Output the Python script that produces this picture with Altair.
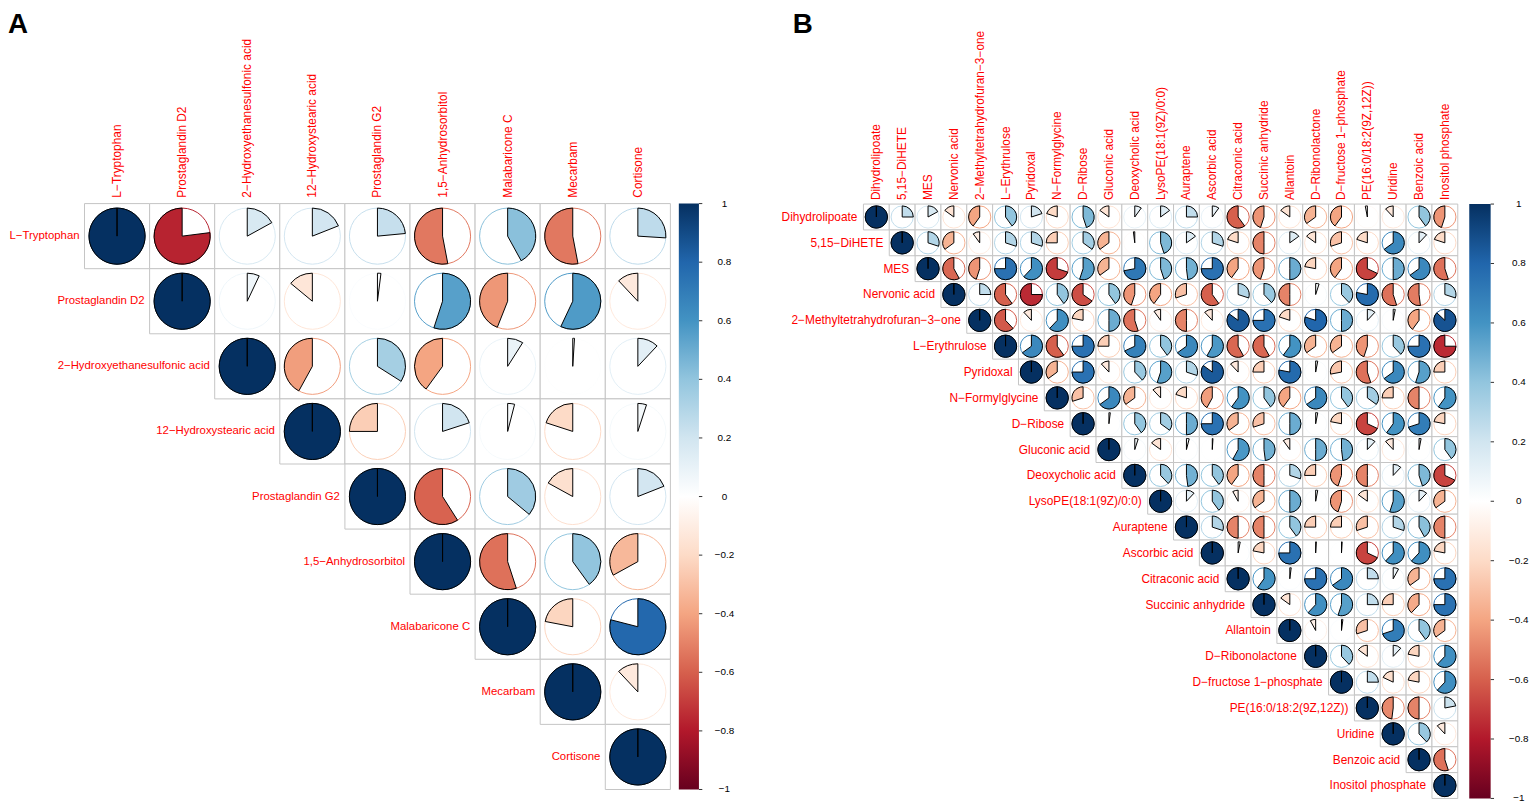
import math
import pandas as pd
import altair as alt

# ---------------- data ----------------
A_NAMES = ["L−Tryptophan", "Prostaglandin D2", "2−Hydroxyethanesulfonic acid",
           "12−Hydroxystearic acid", "Prostaglandin G2", "1,5−Anhydrosorbitol",
           "Malabaricone C", "Mecarbam", "Cortisone"]
# upper triangle, row i holds correlations with columns i+1 .. n
A_UPPER = [
    [-0.77, 0.17, 0.19, 0.235, -0.53, 0.42, -0.53, 0.26],
    [0.07, -0.14, 0.02, 0.55, -0.44, 0.57, -0.12],
    [-0.42, 0.34, -0.40, 0.09, 0.01, 0.12],
    [-0.25, 0.20, 0.04, -0.20, 0.05],
    [-0.59, 0.36, -0.17, 0.19],
    [-0.55, 0.40, -0.33],
    [-0.22, 0.79],
    [-0.12],
]

B_NAMES = ["Dihydrolipoate", "5,15−DiHETE", "MES", "Nervonic acid",
           "2−Methyltetrahydrofuran−3−one", "L−Erythrulose", "Pyridoxal",
           "N−Formylglycine", "D−Ribose", "Gluconic acid", "Deoxycholic acid",
           "LysoPE(18:1(9Z)/0:0)", "Auraptene", "Ascorbic acid", "Citraconic acid",
           "Succinic anhydride", "Allantoin", "D−Ribonolactone",
           "D−fructose 1−phosphate", "PE(16:0/18:2(9Z,12Z))", "Uridine",
           "Benzoic acid", "Inositol phosphate"]
B_UPPER = [
    [0.25, 0.17, -0.15, -0.40, 0.40, 0.20, -0.20, 0.45, -0.15, 0.10, 0.15, 0.25, 0.10, -0.60, -0.45, -0.15, -0.35, -0.40, -0.03, -0.12, 0.40, -0.45],
    [0.30, -0.35, -0.10, 0.30, 0.30, -0.25, 0.35, -0.35, -0.02, 0.45, 0.15, 0.30, -0.20, -0.50, 0.15, -0.15, -0.30, -0.20, 0.65, 0.12, -0.20],
    [-0.58, -0.45, 0.75, 0.62, -0.70, 0.55, -0.35, 0.72, 0.45, 0.48, 0.75, -0.40, -0.45, 0.50, -0.22, -0.40, -0.68, 0.50, 0.65, -0.55],
    [0.25, -0.60, -0.75, 0.40, -0.65, 0.40, -0.45, -0.40, -0.30, -0.60, 0.30, 0.38, -0.50, 0.05, 0.38, 0.78, -0.55, -0.52, 0.30],
    [-0.62, -0.12, 0.62, -0.22, 0.50, -0.55, -0.10, -0.50, -0.12, 0.85, 0.75, -0.20, 0.80, 0.50, 0.12, 0.03, -0.40, 0.87],
    [0.65, -0.60, 0.75, -0.25, 0.68, 0.40, 0.65, 0.58, -0.58, -0.58, 0.60, -0.35, -0.35, -0.45, 0.38, 0.75, -0.75],
    [-0.35, 0.75, -0.12, 0.38, 0.55, 0.30, 0.85, -0.12, -0.25, 0.78, 0.03, -0.28, -0.55, 0.65, 0.55, -0.25],
    [-0.30, 0.65, -0.35, -0.12, -0.20, -0.42, 0.60, 0.40, -0.40, 0.65, 0.40, 0.35, -0.25, -0.50, 0.60],
    [0.02, 0.40, 0.35, 0.50, 0.75, -0.35, -0.30, 0.50, 0.03, -0.22, -0.68, 0.60, 0.70, -0.22],
    [0.05, -0.15, 0.04, 0.01, 0.58, 0.48, -0.10, 0.50, 0.48, 0.12, -0.12, 0.03, 0.40],
    [0.38, 0.48, 0.40, -0.40, -0.50, 0.30, -0.25, -0.45, -0.50, 0.12, 0.45, -0.68],
    [0.12, 0.40, -0.08, -0.35, 0.50, 0.03, -0.45, -0.15, 0.55, 0.12, -0.35],
    [0.30, -0.50, -0.50, 0.40, -0.25, -0.25, -0.30, 0.30, 0.42, -0.50],
    [0.03, -0.22, 0.75, 0.01, 0.01, -0.68, 0.62, 0.62, -0.22],
    [0.60, 0.02, 0.75, 0.65, 0.25, 0.08, -0.35, 0.75],
    [-0.15, 0.62, 0.55, 0.25, -0.25, -0.38, 0.75],
    [-0.08, 0.02, -0.30, 0.70, 0.40, -0.35],
    [0.38, -0.15, 0.12, -0.22, 0.62],
    [0.25, -0.18, -0.22, 0.62],
    [-0.48, -0.50, 0.22],
    [0.38, -0.12],
    [-0.55],
]

CBAR_TICKS = [1.0, 0.8, 0.6, 0.4, 0.2, 0.0, -0.2, -0.4, -0.6, -0.8, -1.0]
CBAR_LABELS = ["1", "0.8", "0.6", "0.4", "0.2", "0", "−0.2", "−0.4", "−0.6", "−0.8", "−1"]

PAL_DOMAIN = [-1, -0.8, -0.6, -0.4, -0.2, 0, 0.2, 0.4, 0.6, 0.8, 1]
PALETTE = ["#67001F", "#B2182B", "#D6604D", "#F4A582", "#FDDBC7", "#FFFFFF",
           "#D1E5F0", "#92C5DE", "#4393C3", "#2166AC", "#053061"]

# ---------------- style / layout ----------------
FONT = "Liberation Sans"
RED = "#FF0000"
GRID_COL = "#C4C4C4"
PAGE_H = 799          # plot height of both panels (page y 8 .. 807)

LAYOUT_A = dict(left=8, width=780, grid_left=85.2, grid_top=201.7, cell=65.7,
                radius=28.3, cbar_left=685.0, cbar_right=705.3, cbar_label=731.0,
                col_gap=6.0, row_gap=5, row_font=11.5, letter="A", letter_left=8)
LAYOUT_B = dict(left=788, width=749, grid_left=865.3, grid_top=202.2, cell=26.08,
                radius=11.2, cbar_left=1476.7, cbar_right=1498.3, cbar_label=1526.7,
                col_gap=4.0, row_gap=6, row_font=12, letter="B", letter_left=794)


def cells_frame(names, upper):
    rows = []
    n = len(names)
    for i in range(n):
        for j in range(i, n):
            r = 1.0 if i == j else upper[i][j - i - 1]
            rows.append({"i": i, "j": j, "r": r})
    return pd.DataFrame(rows)


def panel(names, upper, L):
    n = len(names)
    c = L["cell"]
    to_u = lambda px: (px - L["grid_left"]) / c
    to_v = lambda py: (py - L["grid_top"]) / c
    xdom = [to_u(L["left"]), to_u(L["left"] + L["width"])]
    ydom = [to_v(8), to_v(8 + PAGE_H)]
    xs = alt.Scale(domain=xdom, nice=False, zero=False)
    ys = alt.Scale(domain=ydom, nice=False, zero=False, reverse=True)
    cscale = alt.Scale(domain=PAL_DOMAIN, range=PALETTE, interpolate="rgb")

    cells = cells_frame(names, upper)
    base = alt.Chart(cells).transform_calculate(
        x0="datum.j", x1="datum.j + 1", y0="datum.i", y1="datum.i + 1",
        xc="datum.j + 0.5", yc="datum.i + 0.5",
        c0="0", c1="2 * PI",
        t0="datum.r < 0 ? 2 * PI * (1 + datum.r) : 0",
        t1="datum.r < 0 ? 2 * PI : 2 * PI * min(datum.r, 0.99999)",
    )
    X = lambda f: alt.X(f, scale=xs, axis=None)
    Y = lambda f: alt.Y(f, scale=ys, axis=None)

    grid = base.mark_rect(fill="white", stroke=GRID_COL, strokeWidth=1).encode(
        x=X("x0:Q"), x2="x1:Q", y=Y("y0:Q"), y2="y1:Q")
    ring = base.mark_arc(filled=False, strokeWidth=1).encode(
        x=X("xc:Q"), y=Y("yc:Q"),
        theta=alt.Theta("c0:Q", scale=None), theta2="c1:Q",
        radius=alt.value(L["radius"]),
        stroke=alt.Stroke("r:Q", scale=cscale, legend=None))
    pie = base.mark_arc(stroke="black", strokeWidth=1).encode(
        x=X("xc:Q"), y=Y("yc:Q"),
        theta=alt.Theta("t0:Q", scale=None), theta2="t1:Q",
        radius=alt.value(L["radius"]),
        fill=alt.Fill("r:Q", scale=cscale, legend=None))

    lab = pd.DataFrame({"name": names, "k": list(range(n))})
    gap = L["col_gap"] / c
    row_lab = alt.Chart(lab).transform_calculate(
        lx="datum.k", ly="datum.k + 0.5").mark_text(
        align="right", baseline="middle", dx=-L["row_gap"], font=FONT,
        fontSize=L["row_font"], color=RED).encode(
        x=X("lx:Q"), y=Y("ly:Q"), text="name:N")
    col_lab = alt.Chart(lab).transform_calculate(
        lx="datum.k + 0.5", ly=str(-gap)).mark_text(
        align="left", baseline="middle", angle=270, font=FONT, fontSize=12,
        color=RED).encode(x=X("lx:Q"), y=Y("ly:Q"), text="name:N")

    # colour bar
    stops = [alt.GradientStop(color=col, offset=k / (len(PALETTE) - 1))
             for k, col in enumerate(PALETTE)]
    cb = pd.DataFrame({"x0": [to_u(L["cbar_left"])], "x1": [to_u(L["cbar_right"])],
                       "y0": [0], "y1": [n]})
    cbar = alt.Chart(cb).mark_rect(
        fill=alt.LinearGradient(gradient="linear", stops=stops, x1=0, x2=0, y1=1, y2=0)
    ).encode(x=X("x0:Q"), x2="x1:Q", y=Y("y0:Q"), y2="y1:Q")
    tk = pd.DataFrame({"t": CBAR_TICKS, "label": CBAR_LABELS})
    tk_base = alt.Chart(tk).transform_calculate(
        ty=f"(1 - datum.t) / 2 * {n}",
        tx0=str(to_u(L["cbar_right"])),
        tx1=str(to_u(L["cbar_right"] + 3.4)),
        lx=str(to_u(L["cbar_label"])))
    ticks = tk_base.mark_rule(color="#333333", strokeWidth=1).encode(
        x=X("tx0:Q"), x2="tx1:Q", y=Y("ty:Q"))
    tlabels = tk_base.mark_text(align="center", baseline="middle", font=FONT,
                                fontSize=10, color="black").encode(
        x=X("lx:Q"), y=Y("ty:Q"), text="label:N")

    letter_df = pd.DataFrame({"letter": [L["letter"]],
                              "lx": [to_u(L["letter_left"])], "ly": [ydom[0]]})
    letter = alt.Chart(letter_df).mark_text(
        align="left", baseline="top", font=FONT, fontSize=28, fontWeight="bold",
        color="black").encode(x=X("lx:Q"), y=Y("ly:Q"), text="letter:N")

    return alt.layer(grid, ring, pie, row_lab, col_lab, cbar, ticks, tlabels,
                     letter).properties(width=L["width"], height=PAGE_H)


panel_a = panel(A_NAMES, A_UPPER, LAYOUT_A)
panel_b = panel(B_NAMES, B_UPPER, LAYOUT_B)

chart = alt.hconcat(panel_a, panel_b, spacing=0).properties(
    padding=0, background="white").configure_view(strokeWidth=0)

chart.save("out.html", embed_options={"renderer": "svg", "actions": False})
